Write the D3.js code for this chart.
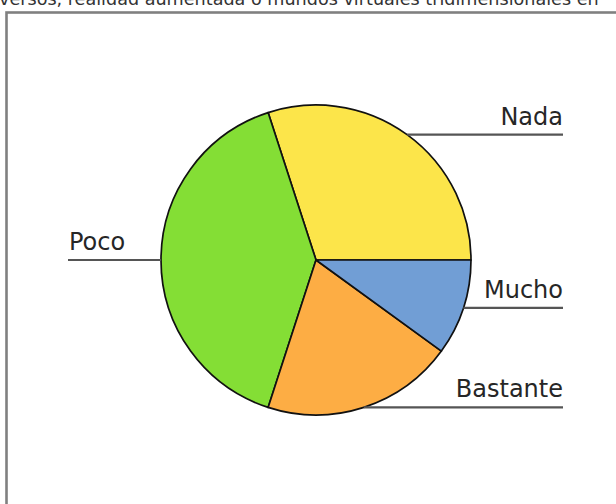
<!DOCTYPE html>
<html>
<head>
<meta charset="utf-8">
<script src="https://cdn.jsdelivr.net/npm/d3@7"></script>
<style>
  html, body { margin: 0; padding: 0; background: #fff; overflow: hidden; }
  svg { display: block; }
</style>
</head>
<body>
<svg id="chart" width="616" height="504"></svg>
<script>
// Survey answers, in drawing order (counter-clockwise from 3 o'clock)
const categories = ["Nada", "Poco", "Bastante", "Mucho"];
const values = [30, 40, 20, 10];
const colors = ["#FCE54A", "#84DE35", "#FDAD44", "#719ED5"];
const titleText = "versos, realidad aumentada o mundos virtuales tridimensionales en";

const W = 616, H = 504;
const cx = 316, cy = 260, radius = 155;
const rightEdge = 563, leftEdge = 68;

const svg = d3.select("#chart");

// title, partly clipped at the top
svg.append("text")
  .attr("x", -1)
  .attr("y", 5)
  .attr("font-family", "DejaVu Sans, Verdana, sans-serif")
  .attr("font-size", 17.6)
  .attr("fill", "#333")
  .text(titleText);

// panel frame
svg.append("rect")
  .attr("x", 6.5)
  .attr("y", 12.5)
  .attr("width", W + 20)
  .attr("height", H + 20)
  .attr("fill", "none")
  .attr("stroke", "#808080")
  .attr("stroke-width", 2.6);

// Pie laid out counter-clockwise starting at 3 o'clock
const pie = d3.pie()
  .sort(null)
  .startAngle(Math.PI / 2)
  .endAngle(Math.PI / 2 - 2 * Math.PI)
  .value(d => d.value);

const data = categories.map((c, i) => ({ name: c, value: values[i], color: colors[i] }));
const arcs = pie(data);

const arc = d3.arc().innerRadius(0).outerRadius(radius);

const g = svg.append("g").attr("transform", `translate(${cx},${cy})`);

g.selectAll("path.slice")
  .data(arcs)
  .join("path")
  .attr("class", "slice")
  .attr("d", arc)
  .attr("fill", d => d.data.color)
  .attr("stroke", "#111")
  .attr("stroke-width", 1.7)
  .attr("stroke-linejoin", "round");

// Leader lines and labels from the midpoint of each slice's rim
const labels = svg.append("g");
arcs.forEach(d => {
  const mid = (d.startAngle + d.endAngle) / 2;
  const px = cx + radius * Math.sin(mid);
  const py = cy - radius * Math.cos(mid);
  const right = Math.sin(mid) >= 0;
  const endX = right ? rightEdge : leftEdge;
  labels.append("line")
    .attr("x1", px).attr("y1", py)
    .attr("x2", endX).attr("y2", py)
    .attr("stroke", "#555")
    .attr("stroke-width", 2.2);
  labels.append("text")
    .attr("x", right ? endX : endX + 1)
    .attr("y", py - 10)
    .attr("text-anchor", right ? "end" : "start")
    .attr("font-family", "DejaVu Sans, Verdana, sans-serif")
    .attr("font-size", 24)
    .attr("fill", "#262626")
    .text(d.data.name);
});
</script>
</body>
</html>
